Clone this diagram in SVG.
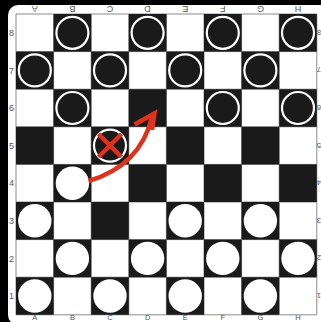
<svg xmlns="http://www.w3.org/2000/svg" width="321" height="322" viewBox="0 0 321 322">
  <defs>
    <style>
      .dk { fill: #1a1a1a; }
      .grid { stroke: #8a8a8a; stroke-width: 1; fill: none; }
      .bp { fill: #1a1a1a; stroke: #ffffff; stroke-width: 2.2; }
      .wp { fill: #ffffff; }
      .lbl { font-family: "Liberation Sans", Arial, sans-serif; font-size: 9px; fill: #555; text-anchor: middle; }
      .sm { font-size: 7.5px; }
      .red { stroke: #e0301e; stroke-width: 4.5; fill: none; stroke-linecap: butt; }
    </style>
  </defs>
  <rect x="0" y="0" width="321" height="322" fill="#000"/>
  <rect x="8" y="5" width="330" height="320" rx="10" fill="#fff"/>
  <g id="board">
    <rect x="16" y="14" width="300.8" height="300.8" fill="#fff"/>
    <g class="grid">
      <path d="M16 14V314.8M53.6 14V314.8M91.2 14V314.8M128.8 14V314.8M166.4 14V314.8M204 14V314.8M241.6 14V314.8M279.2 14V314.8M316.8 14V314.8"/>
      <path d="M16 14H316.8M16 51.6H316.8M16 89.2H316.8M16 126.8H316.8M16 164.4H316.8M16 202H316.8M16 239.6H316.8M16 277.2H316.8M16 314.8H316.8"/>
    </g>
    <g class="dk">
      <rect x="53.6" y="14" width="37.6" height="37.6"/>
      <rect x="128.8" y="14" width="37.6" height="37.6"/>
      <rect x="204" y="14" width="37.6" height="37.6"/>
      <rect x="279.2" y="14" width="37.6" height="37.6"/>
      <rect x="16" y="51.6" width="37.6" height="37.6"/>
      <rect x="91.2" y="51.6" width="37.6" height="37.6"/>
      <rect x="166.4" y="51.6" width="37.6" height="37.6"/>
      <rect x="241.6" y="51.6" width="37.6" height="37.6"/>
      <rect x="53.6" y="89.2" width="37.6" height="37.6"/>
      <rect x="128.8" y="89.2" width="37.6" height="37.6"/>
      <rect x="204" y="89.2" width="37.6" height="37.6"/>
      <rect x="279.2" y="89.2" width="37.6" height="37.6"/>
      <rect x="16" y="126.8" width="37.6" height="37.6"/>
      <rect x="91.2" y="126.8" width="37.6" height="37.6"/>
      <rect x="166.4" y="126.8" width="37.6" height="37.6"/>
      <rect x="241.6" y="126.8" width="37.6" height="37.6"/>
      <rect x="53.6" y="164.4" width="37.6" height="37.6"/>
      <rect x="128.8" y="164.4" width="37.6" height="37.6"/>
      <rect x="204" y="164.4" width="37.6" height="37.6"/>
      <rect x="279.2" y="164.4" width="37.6" height="37.6"/>
      <rect x="16" y="202" width="37.6" height="37.6"/>
      <rect x="91.2" y="202" width="37.6" height="37.6"/>
      <rect x="166.4" y="202" width="37.6" height="37.6"/>
      <rect x="241.6" y="202" width="37.6" height="37.6"/>
      <rect x="53.6" y="239.6" width="37.6" height="37.6"/>
      <rect x="128.8" y="239.6" width="37.6" height="37.6"/>
      <rect x="204" y="239.6" width="37.6" height="37.6"/>
      <rect x="279.2" y="239.6" width="37.6" height="37.6"/>
      <rect x="16" y="277.2" width="37.6" height="37.6"/>
      <rect x="91.2" y="277.2" width="37.6" height="37.6"/>
      <rect x="166.4" y="277.2" width="37.6" height="37.6"/>
      <rect x="241.6" y="277.2" width="37.6" height="37.6"/>
    </g>
  </g>
  <g id="labels" class="lbl">
    <g transform="rotate(180 0 0)">
      <text x="-34.8" y="-6">A</text>
      <text x="-72.4" y="-6">B</text>
      <text x="-110" y="-6">C</text>
      <text x="-147.6" y="-6">D</text>
      <text x="-185.2" y="-6">E</text>
      <text x="-222.8" y="-6">F</text>
      <text x="-260.4" y="-6">G</text>
      <text x="-298" y="-6">H</text>
    </g>
    <g class="sm">
      <text x="34.8" y="320.3">A</text>
      <text x="72.4" y="320.3">B</text>
      <text x="110" y="320.3">C</text>
      <text x="147.6" y="320.3">D</text>
      <text x="185.2" y="320.3">E</text>
      <text x="222.8" y="320.3">F</text>
      <text x="260.4" y="320.3">G</text>
      <text x="298" y="320.3">H</text>
    </g>
    <text x="11.5" y="36">8</text>
    <text x="11.5" y="73.6">7</text>
    <text x="11.5" y="111.2">6</text>
    <text x="11.5" y="148.8">5</text>
    <text x="11.5" y="186.4">4</text>
    <text x="11.5" y="224">3</text>
    <text x="11.5" y="261.6">2</text>
    <text x="11.5" y="299.2">1</text>
    <g transform="rotate(180 0 0)" class="sm">
      <text x="-318.8" y="-29.8">8</text>
      <text x="-318.8" y="-67.4">7</text>
      <text x="-318.8" y="-105">6</text>
      <text x="-318.8" y="-142.6">5</text>
      <text x="-318.8" y="-180.2">4</text>
      <text x="-318.8" y="-217.8">3</text>
      <text x="-318.8" y="-255.4">2</text>
      <text x="-318.8" y="-293">1</text>
    </g>
  </g>
  <g id="black-pieces" class="bp">
    <circle id="B8" cx="72.4" cy="32.8" r="16"/>
    <circle id="D8" cx="147.6" cy="32.8" r="16"/>
    <circle id="F8" cx="222.8" cy="32.8" r="16"/>
    <circle id="H8" cx="298" cy="32.8" r="16"/>
    <circle id="A7" cx="34.8" cy="70.4" r="16"/>
    <circle id="C7" cx="110" cy="70.4" r="16"/>
    <circle id="E7" cx="185.2" cy="70.4" r="16"/>
    <circle id="G7" cx="260.4" cy="70.4" r="16"/>
    <circle id="B6" cx="72.4" cy="108" r="16"/>
    <circle id="F6" cx="222.8" cy="108" r="16"/>
    <circle id="H6" cx="298" cy="108" r="16"/>
    <circle id="C5" cx="110" cy="145.6" r="16"/>
  </g>
  <g id="white-pieces" class="wp">
    <circle id="B4" cx="72.4" cy="183.2" r="16.7"/>
    <circle id="A3" cx="34.8" cy="220.8" r="16.7"/>
    <circle id="E3" cx="185.2" cy="220.8" r="16.7"/>
    <circle id="G3" cx="260.4" cy="220.8" r="16.7"/>
    <circle id="B2" cx="72.4" cy="258.4" r="16.7"/>
    <circle id="D2" cx="147.6" cy="258.4" r="16.7"/>
    <circle id="F2" cx="222.8" cy="258.4" r="16.7"/>
    <circle id="H2" cx="298" cy="258.4" r="16.7"/>
    <circle id="A1" cx="34.8" cy="296" r="16.7"/>
    <circle id="C1" cx="110" cy="296" r="16.7"/>
    <circle id="E1" cx="185.2" cy="296" r="16.7"/>
    <circle id="G1" cx="260.4" cy="296" r="16.7"/>
  </g>
  <g id="connectors" class="red">
    <path id="capture-x" d="M98.5 134L121.5 157M121.5 134L98.5 157"/>
    <path id="move-arrow" d="M88.5 181Q140 166 152 117"/>
    <path id="arrow-head" d="M134.5 124.5L154.5 113.5L152 130" stroke-linejoin="miter"/>
  </g>
</svg>
